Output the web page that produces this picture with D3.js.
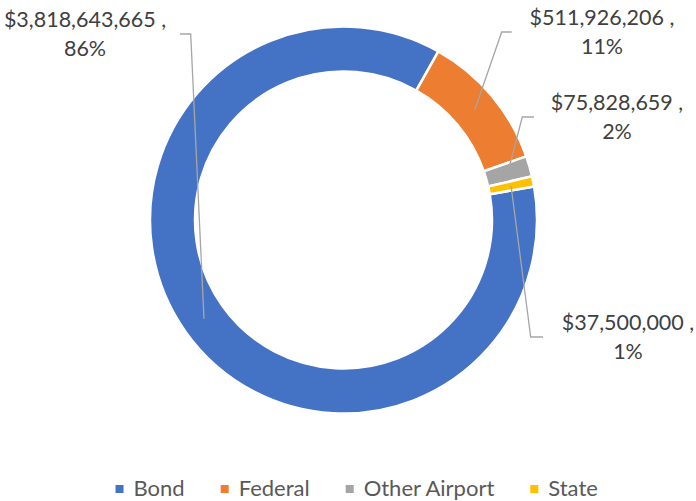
<!doctype html>
<html>
<head>
  <meta charset="utf-8">
  <title>Funding sources</title>
  <script src="https://cdnjs.cloudflare.com/ajax/libs/d3/7.8.5/d3.min.js"></script>
  <style>
    body { margin: 0; background: #fff; }
    text { font-family: Lato, "Open Sans", sans-serif; }
  </style>
</head>
<body>
  <div id="chart"></div>
  <script>
    // data
    const categories = ['Bond', 'Federal', 'Other Airport', 'State'];
    const amounts = [3818643665, 511926206, 75828659, 37500000];
    const percentLabels = ['86%', '11%', '2%', '1%'];
    const colors = ['#4472C4', '#ED7D31', '#A5A5A5', '#FFC000'];

    // where each data label sits (block centre) and where its leader line ends
    const labelPos = [
      { cx: 85,  cy: 34,  end: 180, elbow: 190.7 },
      { cx: 602, cy: 32,  end: 511.7, elbow: 501.7 },
      { cx: 617, cy: 117, end: 534, elbow: 522.3 },
      { cx: 628, cy: 337, end: 543, elbow: 530.7 }
    ];

    const width = 696, height = 501;
    const cx = 343.5, cy = 220;
    const outerR = 193.5, innerR = 148.5;

    const svg = d3.select('#chart')
      .append('svg')
      .attr('width', width)
      .attr('height', height);

    const data = categories.map((c, i) => ({ name: c, value: amounts[i], pct: percentLabels[i], color: colors[i], pos: labelPos[i] }));

    const pie = d3.pie()
      .sort(null)
      .value(d => d.value)
      .startAngle(80 * Math.PI / 180)
      .endAngle(80 * Math.PI / 180 + 2 * Math.PI);

    const arc = d3.arc().innerRadius(innerR).outerRadius(outerR);

    const g = svg.append('g').attr('transform', `translate(${cx},${cy})`);

    g.selectAll('path.slice')
      .data(pie(data))
      .join('path')
      .attr('class', 'slice')
      .attr('d', arc)
      .attr('fill', d => d.data.color)
      .attr('stroke', '#fff')
      .attr('stroke-width', 2.5);

    // leader lines: centroid -> elbow -> end, in page coordinates
    svg.selectAll('polyline.leader')
      .data(pie(data))
      .join('polyline')
      .attr('class', 'leader')
      .attr('fill', 'none')
      .attr('stroke', '#A6A6A6')
      .attr('stroke-width', 1.3)
      .attr('points', d => {
        const c = arc.centroid(d);
        const p = d.data.pos;
        return [[cx + c[0], cy + c[1]], [p.elbow, p.cy], [p.end, p.cy]].map(q => q.join(',')).join(' ');
      });

    const fmt = d3.format('$,');

    const labels = svg.selectAll('g.lab')
      .data(data)
      .join('g')
      .attr('class', 'lab');

    labels.append('text')
      .attr('x', d => d.pos.cx)
      .attr('y', d => d.pos.cy - 7)
      .attr('text-anchor', 'middle')
      .attr('fill', '#404040')
      .style('font-size', '21.5px')
      .text(d => fmt(d.value) + ' ,');

    labels.append('text')
      .attr('x', d => d.pos.cx)
      .attr('y', d => d.pos.cy + 21.5)
      .attr('text-anchor', 'middle')
      .attr('fill', '#404040')
      .style('font-size', '21.5px')
      .text(d => d.pct);

    // legend, laid out from measured text widths and centred
    const legend = svg.append('g').attr('class', 'legend');
    const items = legend.selectAll('g.item')
      .data(data)
      .join('g')
      .attr('class', 'item');

    items.append('rect')
      .attr('width', 8)
      .attr('height', 8)
      .attr('y', -8)
      .attr('fill', d => d.color);

    items.append('text')
      .attr('x', 18)
      .attr('y', 3)
      .attr('fill', '#595959')
      .style('font-size', '22px')
      .text(d => d.name);

    let xOff = 0;
    const gapBetween = 36;
    items.each(function() {
      const w = d3.select(this).select('text').node().getComputedTextLength();
      d3.select(this).attr('data-x', xOff);
      xOff += 18 + w + gapBetween;
    });
    const totalW = xOff - gapBetween;
    const startX = 356.7 - totalW / 2;
    items.attr('transform', function() {
      return `translate(${startX + (+this.getAttribute('data-x'))},493)`;
    });
  </script>
</body>
</html>
